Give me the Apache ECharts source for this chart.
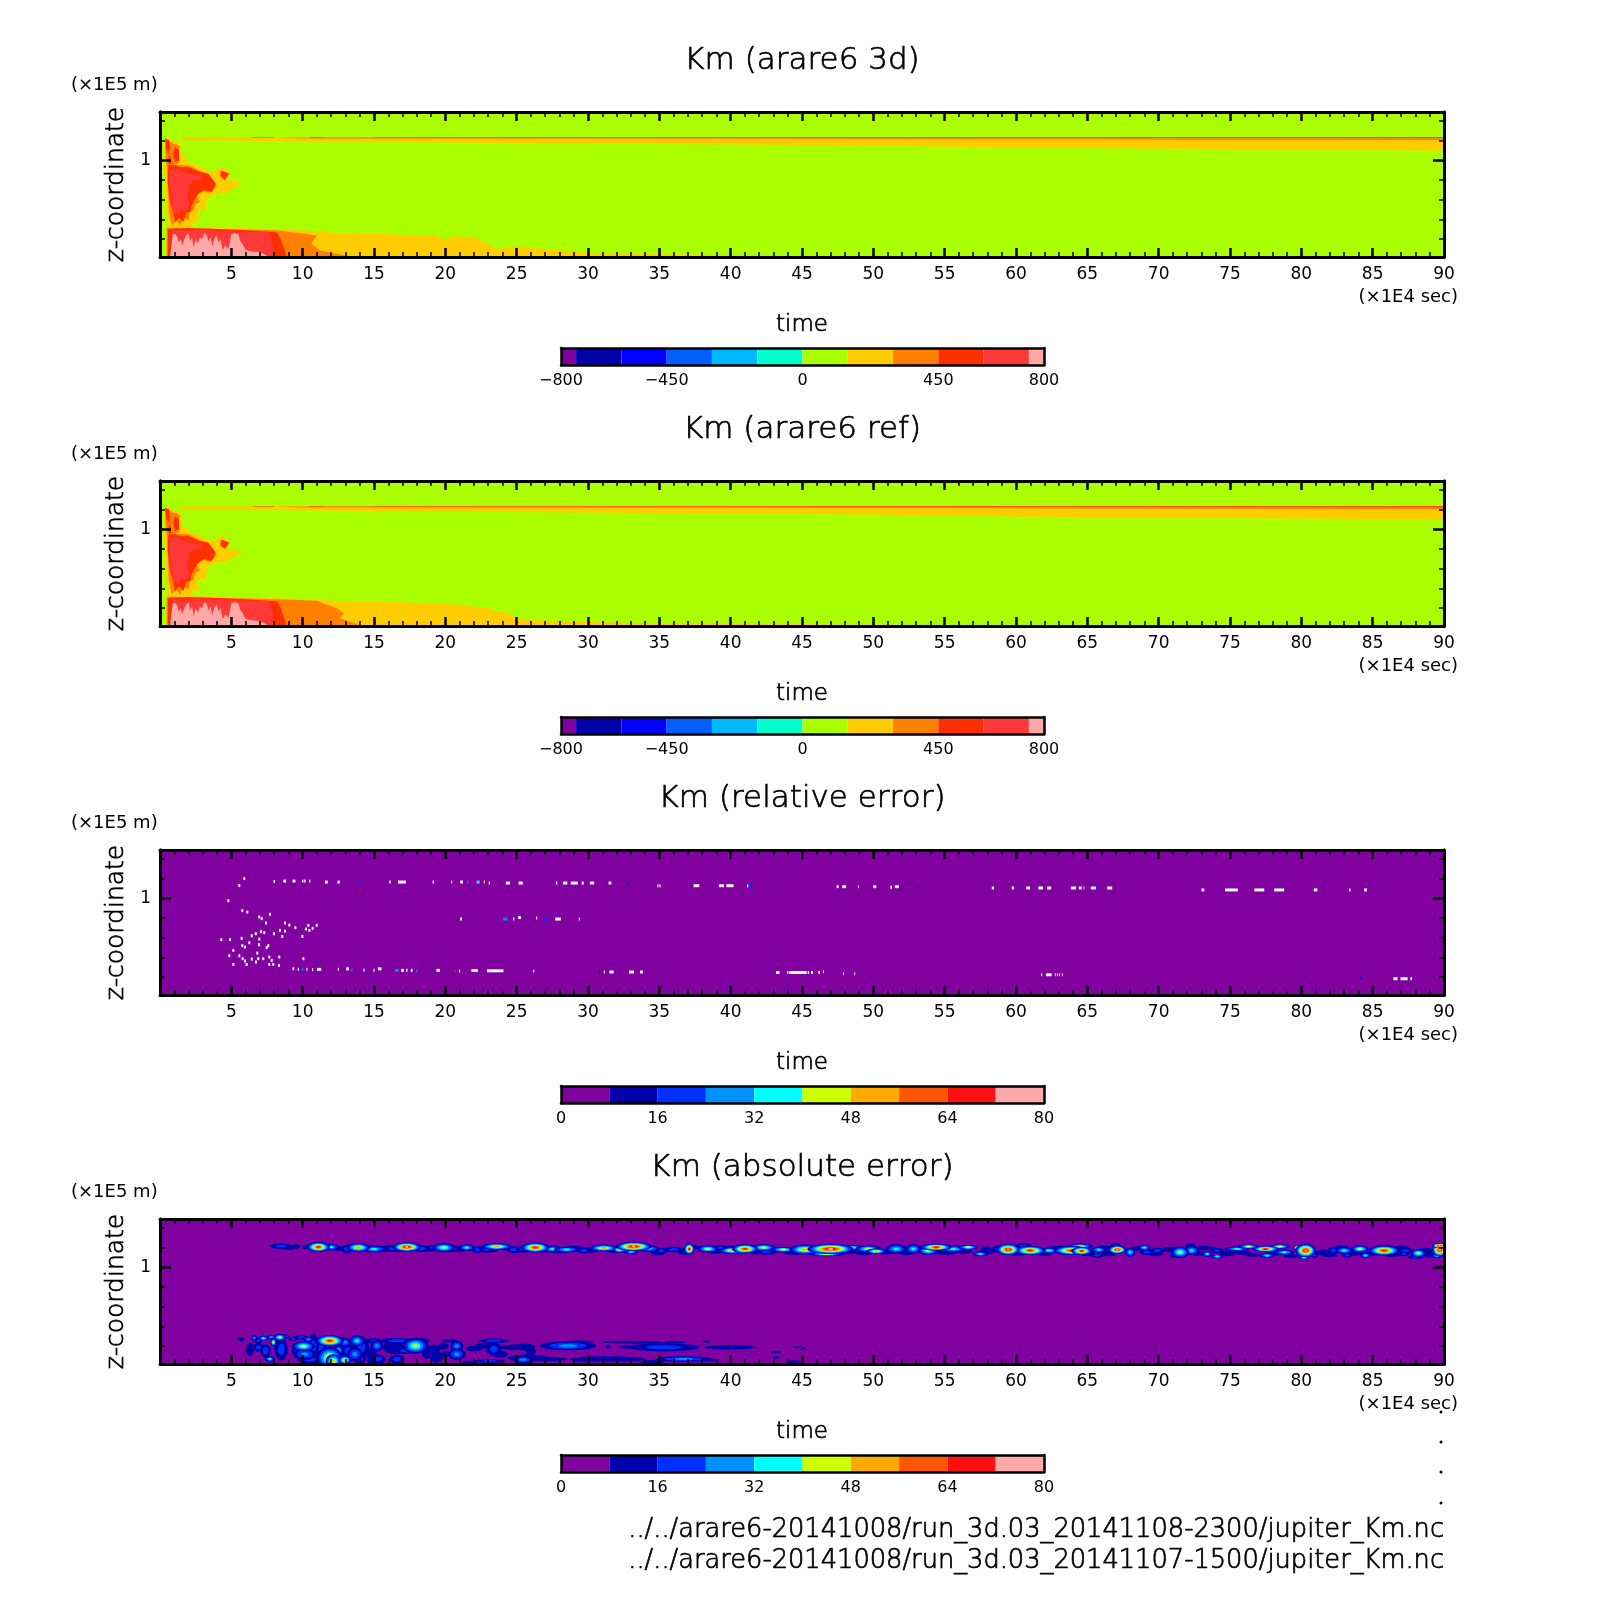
<!DOCTYPE html>
<html><head><meta charset="utf-8">
<style>html,body{margin:0;padding:0;background:#fff}#c{width:1604px;height:1604px}</style>
<script src="https://cdn.jsdelivr.net/npm/echarts@6/dist/echarts.min.js"></script>
</head><body><div id="c"></div>
<script>
/* ---------- text ---------- */
const panelTitles = ['Km (arare6 3d)', 'Km (arare6 ref)', 'Km (relative error)', 'Km (absolute error)'];
const fileLines = ['../../arare6-20141008/run_3d.03_20141108-2300/jupiter_Km.nc',
                   '../../arare6-20141008/run_3d.03_20141107-1500/jupiter_Km.nc'];
const timeTicks = [5,10,15,20,25,30,35,40,45,50,55,60,65,70,75,80,85,90];

/* ---------- colour levels ---------- */
const kmBounds = [-800,-750,-600,-450,-300,-150,0,150,300,450,600,750,800];
const kmColors = ['#8000A0','#0000AA','#0000FF','#0060FF','#00B8FF','#00FFCC','#AAFF00','#FFCC00','#FF8000','#FF3000','#FF3838','#FFA8A8'];
const kmLabels = [-800,-450,0,450,800];
const errBounds = [0,8,16,24,32,40,48,56,64,72,80];
const errColors = ['#8000A0','#0000AA','#0030FF','#0090FF','#00FFFF','#CCFF00','#FFAA00','#FF5500','#FF1010','#FFAAAA'];
const errLabels = [0,16,32,48,64,80];

/* ---------- Km fields: contour regions as [time, z] ---------- */
const fieldAll = [[0,0.02],[90,0.02],[90,1.49],[0,1.49]];
const plumeYellow = [[.35,1.237],[.7,1.22],[.85,1.2],[1.05,1.186],[1.2,1.19],[1.35,1.16],[1.52,1.152],[1.45,1.1],[1.64,1.05],[1.5,1.02],[1.99,1.017],[1.95,.98],[2.1,.966],[2.57,.949],[3.39,.898],[3.7,.88],[4.09,.915],[4.44,.932],[4.91,.864],[4.67,.797],[5.26,.797],[5.77,.763],[5.26,.729],[4.67,.671],[3.97,.671],[3.5,.627],[3.15,.577],[3.3,.53],[3.15,.492],[2.75,.5],[2.57,.441],[2.75,.41],[2.69,.374],[2.4,.39],[2.22,.323],[.58,.313],[.47,.407],[.4,.61],[.3,.881],[.3,1.118]];
const plumeOrange = [[.4,1.22],[.58,1.203],[.93,1.169],[1.2,1.16],[1.4,1.135],[1.25,1.08],[1.4,.983],[1.05,.956],[1.99,.949],[2.3,.93],[2.69,.898],[3.39,.864],[3.74,.797],[3.97,.729],[3.5,.671],[3.05,.69],[2.57,.644],[2.8,.577],[2.5,.56],[2.34,.492],[2.1,.47],[1.99,.39],[1.7,.42],[1.4,.34],[1.15,.39],[.82,.34],[.63,.475],[.54,.712],[.47,.949],[.35,1.118]];
const plumeOrangeTip = [[4.2,.898],[4.91,.864],[4.56,.797],[4.2,.83]];
const plumeRed = [[.58,.949],[1.05,.949],[1.4,.93],[1.99,.932],[2.8,.881],[3.39,.864],[3.9,.763],[3.62,.678],[3.1,.7],[2.69,.661],[2.45,.61],[2.22,.543],[2.1,.475],[1.85,.47],[1.64,.374],[1.35,.42],[1.05,.374],[.93,.475],[.7,.577],[.54,.78]];
const plumeRedStreakA = [[.35,1.22],[.63,1.203],[.7,1.118],[.58,1.067],[.44,1.118]];
const plumeRedStreakB = [[1.05,1.135],[1.33,1.101],[1.33,1],[1.05,.983],[.93,1.067]];
const plumeRedStreakC = [[.6,1.05],[.75,1.03],[.8,.96],[.6,.96]];
const plumeRedTip = [[4.32,.898],[4.84,.864],[4.51,.807],[4.28,.841]];
const plumeLight = [[.7,.915],[1.29,.915],[1.64,.881],[2.3,.86],[2.92,.847],[2.8,.797],[2.4,.8],[1.99,.746],[2.1,.7],[1.87,.661],[1.95,.6],[2.1,.543],[1.75,.475],[1.5,.5],[1.29,.441],[.93,.475],[.77,.61],[.68,.78]];

const lowYellow3d = [[.47,.02],[.47,.327],[4,.322],[9.35,.297],[11.7,.275],[12.6,.256],[13.8,.26],[16.2,.25],[18.7,.235],[19.4,.24],[19.9,.19],[20.6,.23],[22,.22],[23,.155],[23.6,.1],[25,.13],[27.8,.09],[30.2,.06],[33.6,.05],[40,.04],[50,.035],[62,.028],[62,.02]];
const lowYellowRef = [[.47,.02],[.47,.327],[4,.322],[9.35,.297],[11.7,.278],[14,.265],[17,.26],[20,.245],[21.5,.23],[22.3,.2],[23,.21],[23.6,.165],[24.3,.16],[25,.1],[26,.08],[30.2,.06],[33.6,.05],[40,.04],[50,.035],[62,.028],[62,.02]];
const lowOrange3d = [[.47,.02],[.47,.316],[8.2,.29],[11,.24],[10.6,.154],[11.2,.087],[12.4,.053],[13.6,.02]];
const lowOrangeRef = [[.47,.02],[.47,.316],[8.2,.29],[11,.275],[11.6,.24],[12.4,.2],[12.9,.15],[12.6,.1],[13.6,.05],[14.2,.02]];
const lowRed = [[.55,.02],[.55,.305],[2,.315],[4,.305],[6,.29],[8.2,.27],[8.5,.19],[8.9,.02]];
const lowLight = [[.7,.02],[.9,.3],[2,.285],[2.6,.3],[4.3,.28],[6,.275],[7.6,.27],[7.9,.154],[7.9,.02]];
const lowPink = [[.89,.25],[1.05,.25],[1.2,.23],[1.3,.17],[1.45,.2],[1.55,.14],[1.7,.2],[1.85,.24],[2,.26],[2.1,.18],[2.25,.22],[2.35,.12],[2.5,.2],[2.65,.16],[2.8,.22],[2.95,.2],[3.1,.26],[3.25,.25],[3.4,.18],[3.55,.22],[3.65,.13],[3.8,.2],[3.95,.24],[4.1,.17],[4.25,.2],[4.4,.09],[4.6,.14],[4.8,.1],[5,.25],[5.2,.26],[5.5,.25],[5.6,.19],[5.8,.15],[6,.09],[6.3,.08],[6.9,.07],[7.3,.05],[7.6,.02],[.7,.02]];

const stripeYellow = [[1.5,1.232],[90,1.232],[90,1.10],[85,1.105],[80,1.11],[75,1.115],[70,1.12],[65,1.125],[60,1.13],[55,1.14],[50,1.15],[45,1.155],[40,1.16],[35,1.165],[30,1.17],[25,1.175],[20,1.18],[15,1.185],[10,1.19],[8,1.195],[1.5,1.205]];
const stripeOrange = [[8,1.232],[90,1.235],[90,1.205],[60,1.214],[40,1.218],[10,1.222]];
const stripeRed = [[6.5,1.232],[8,1.232],[8,1.226],[10.5,1.226],[10.5,1.232],[11.5,1.232],[11.5,1.228],[15,1.228],[15,1.232],[90,1.235],[90,1.226],[40,1.227],[6.5,1.227]];

const regions3d = [[6,fieldAll],[7,stripeYellow],[8,stripeOrange],[9,stripeRed],[7,plumeYellow],[8,plumeOrange],[8,plumeOrangeTip],[9,plumeRed],[9,plumeRedStreakA],[9,plumeRedStreakB],[9,plumeRedStreakC],[9,plumeRedTip],[10,plumeLight],[7,lowYellow3d],[8,lowOrange3d],[9,lowRed],[10,lowLight],[11,lowPink]];
const regionsRef = [[6,fieldAll],[7,stripeYellow],[8,stripeOrange],[9,stripeRed],[7,plumeYellow],[8,plumeOrange],[8,plumeOrangeTip],[9,plumeRed],[9,plumeRedStreakA],[9,plumeRedStreakB],[9,plumeRedStreakC],[9,plumeRedTip],[10,plumeLight],[7,lowYellowRef],[8,lowOrangeRef],[9,lowRed],[10,lowLight],[11,lowPink]];

/* ---------- relative error: isolated cells [time, z, timeWidth, level] ---------- */
const relTopRow = [[8.01,1.17,.1,10],[8.74,1.175,.2,10],[9.39,1.175,.2,10],[10,1.175,.1,10],[10.15,1.175,.1,10],[10.5,1.175,.08,10],[11.66,1.165,.2,10],[12.52,1.165,.16,10],[13.9,1.165,.08,2],[16.12,1.165,.1,10],[16.96,1.165,.55,10],[19.16,1.165,.1,10],[20.44,1.165,.1,6],[21.14,1.165,.2,10],[21.57,1.165,.08,3],[22.3,1.165,.2,4],[22.73,1.165,.08,5],[23.08,1.155,.08,10],[24.39,1.155,.3,10],[25.28,1.155,.3,10],[27.8,1.155,.1,10],[28.4,1.155,.3,10],[29.04,1.155,.5,10],[29.63,1.155,.15,10],[30.28,1.155,.3,10],[31.54,1.155,.2,10],[32.78,1.15,.12,1],
 [34.9,1.128,.08,10],[35.05,1.128,.08,10],[37.6,1.128,.4,10],[39.35,1.128,.35,10],[39.95,1.128,.5,10],[41.2,1.128,.08,10],[41.4,1.13,.25,2],[47.5,1.118,.14,10],[47.95,1.118,.28,10],[48.95,1.118,.06,10],[50.1,1.118,.22,10],[51.25,1.112,.12,10],[51.65,1.118,.28,10],[53.15,1.118,.06,1],
 [58.38,1.105,.16,10],[59.78,1.105,.16,10],[60.85,1.105,.28,10],[61.73,1.105,.33,10],[62.33,1.105,.28,10],[64.02,1.105,.35,10],[64.5,1.105,.2,10],[64.76,1.105,.06,10],[65.42,1.105,.35,10],[65.68,1.105,.14,2],[66.57,1.105,.35,10],
 [73.1,1.085,.2,10],[75.1,1.085,.9,10],[77.05,1.085,.7,10],[78.45,1.085,.7,10],[81,1.085,.25,10],[83.4,1.085,.1,10],[84.5,1.085,.2,10]];
const relPlume = [[5.91,1.2],[5.56,1.13],[4.79,.976],[5.77,.875],[6.12,.861],[7.71,.838],[6.96,.811],[7.13,.794],[7.43,.75],[8.76,.75],[9.07,.729],[9.49,.702],[10.4,.726],[10.23,.689],[10.47,.675],[10.7,.696],[10.98,.726],[7.08,.662],[6.71,.641],[7.31,.652],[7.99,.641],[8.41,.675],[8.76,.668],[8.57,.614],[9.98,.614],[6.96,.587],[5.72,.594],[4.91,.581],[4.3,.581],[6.43,.621],[6.26,.55],[6.94,.53],[7.48,.5],[7.59,.52],[5.77,.52],[5.96,.506],[5.14,.472],[6.82,.445],[4.86,.418],[5.56,.418],[7.66,.405],[8.36,.405],[6.89,.388],[7.24,.388],[7.83,.371],[6.43,.384],[5.96,.364],[5.79,.388],[5.14,.33],[6.07,.33],[6.73,.354],[7.66,.33],[7.94,.33],[8.34,.32],[10.05,.388]];
const relMidRow = [[21.1,.79,.14,10],[24.2,.79,.3,3],[24.8,.79,.08,10],[25.2,.805,.2,10],[26.4,.8,.08,10],[27.05,.78,.25,2],[27.9,.79,.4,10],[29.4,.79,.08,10]];
const relLowRow = [[9.35,.286,.12,10],[9.7,.28,.08,10],[10,.28,.08,3],[10.3,.28,.08,10],[10.7,.275,.08,10],[11.15,.28,.3,10],[12.5,.28,.08,10],[13.15,.285,.2,10],[13.45,.27,.08,3],[14.3,.27,.08,10],[15,.27,.08,10],[15.4,.285,.25,10],[16.6,.27,.25,3],[17,.27,.2,10],[17.3,.27,.1,10],[17.64,.27,.12,10],[18,.262,.08,3],[19.5,.27,.25,10],[20.7,.262,.1,8],[21,.262,.08,10],[22.05,.268,.45,10],[23.5,.265,1.15,10],[26.2,.262,.08,10],
 [30.8,.253,.06,1],[31.15,.253,.08,10],[31.65,.253,.3,10],[33.05,.253,.35,10],[33.75,.253,.2,10],
 [43.3,.248,.25,10],[44,.248,.08,10],[44.15,.248,.1,10],[44.75,.248,1.15,10],[45.45,.248,.1,10],[45.7,.248,.14,10],[46.2,.248,.1,10],[46.5,.255,.06,10],[47.9,.235,.06,10],[48.7,.235,.06,10],
 [61.8,.225,.08,10],[62.3,.225,.4,10],[62.75,.225,.06,10],[62.9,.225,.06,10],[63.05,.225,.06,10],[63.25,.225,.06,10],[84.2,.19,.12,1],[86.6,.185,.3,10],[87.2,.185,.5,10],[87.7,.185,.12,10]];

/* ---------- absolute error: blobs [time, z, halfTime, halfZ, peak level] ---------- */
const absUpperA = [[8.5,1.215,.45,.012,2],[9.5,1.21,.2,.01,1],[10.2,1.205,.12,.01,1],[11.1,1.205,.45,.022,8],[12,1.205,.3,.015,4],[13.1,1.185,.2,.02,2],[13.9,1.2,.45,.02,6],[15,1.185,.5,.015,4],[16,1.19,.4,.015,2],[16.3,1.19,.3,.015,2],[17.3,1.205,.55,.02,9],[18.3,1.19,.35,.015,2],[19.2,1.2,.3,.012,2],[19.9,1.2,.45,.02,5],[20.6,1.19,.25,.015,2],[21.5,1.2,.3,.015,4],[22.3,1.18,.3,.015,2],[22.9,1.185,.3,.015,2],[23.6,1.21,.6,.015,6],[24.8,1.18,.3,.015,2],[25.5,1.185,.3,.015,2],[26.3,1.2,.55,.022,8],[27.5,1.185,.4,.015,4],[28.5,1.18,.5,.012,4],[29.7,1.17,.3,.012,2],[31.1,1.195,.55,.015,6],[32.2,1.18,.25,.015,6],[33.2,1.21,.7,.02,9],[33,1.16,.3,.012,4]];
const absUpperB = [[32.6,1.19,.3,.015,5],[34.2,1.19,.45,.015,4],[35.2,1.17,.3,.012,2],[36,1.18,.4,.012,2],[37.1,1.187,.2,.025,8],[38.4,1.187,.4,.015,5],[39.25,1.2,.25,.012,2],[40.1,1.17,.5,.015,6],[41,1.187,.5,.02,8],[42.3,1.2,.5,.015,5],[42.5,1.153,.4,.01,2],[43.7,1.18,.5,.012,5],[45.2,1.18,.6,.022,6],[47,1.187,.9,.022,9],[46.7,1.136,.7,.01,5],[48.6,1.2,.4,.012,4],[49.65,1.187,.5,.015,5],[50.2,1.163,.4,.012,6],[51.6,1.187,.4,.02,4],[52.8,1.187,.3,.02,4],[53.85,1.17,.4,.02,5],[54.4,1.204,.6,.015,8],[55.6,1.187,.5,.015,4],[56.65,1.204,.4,.01,5],[57.5,1.136,.3,.01,4],[57.9,1.187,.2,.012,1],[58.75,1.187,.25,.015,2],[59.45,1.18,.45,.025,9]];
const absUpperC = [[61,1.17,.6,.02,8],[60.5,1.22,.3,.01,2],[62.3,1.17,.5,.012,4],[63.9,1.17,.7,.02,8],[64.6,1.165,.4,.018,8],[64.5,1.215,.5,.01,5],[65.8,1.178,.3,.012,4],[65.7,1.12,.25,.01,2],[67.1,1.178,.35,.018,9],[67,1.22,.2,.01,2],[68,1.153,.2,.02,4],[69,1.2,.25,.012,4],[69.2,1.153,.3,.012,2],[69.9,1.17,.3,.012,2],[71.5,1.153,.35,.025,5],[72.3,1.17,.3,.02,4],[72.2,1.22,.2,.01,1],[73.4,1.136,.2,.012,4],[74.1,1.17,.25,.012,2],[74.1,1.11,.25,.008,4],[75.5,1.187,.5,.01,4],[76.3,1.21,.4,.01,5],[77.5,1.187,.5,.012,8],[77.6,1.12,.3,.01,4],[78.5,1.21,.4,.01,5],[78.8,1.153,.4,.012,4],[80.3,1.17,.4,.03,9],[80.2,1.103,.2,.01,5],[79.7,1.2,.15,.012,6],[80.9,1.12,.15,.01,2],[82.3,1.17,.3,.015,2],[83,1.17,.35,.015,4],[83.2,1.12,.2,.01,2],[84.1,1.187,.35,.015,5],[84.5,1.12,.2,.01,4],[85.8,1.17,.6,.022,8],[85.8,1.21,.3,.008,2],[87.3,1.17,.3,.012,2],[87.2,1.136,.2,.01,2],[88.2,1.143,.3,.018,5],[88,1.103,.3,.008,2],[89.7,1.178,.3,.03,9],[89.7,1.22,.3,.01,9],[89.5,1.12,.2,.012,4]];
const absBandMesh = [[9,1.195,.3,.008,1],[12.6,1.19,.3,.01,1],[14.7,1.2,.3,.01,1],[16.8,1.18,.3,.01,1],[18.9,1.18,.3,.01,1],[20.2,1.175,.3,.008,1],[21,1.18,.3,.01,1],[23,1.17,.4,.008,1],[24.2,1.195,.3,.01,1],[25,1.165,.3,.008,1],[26.9,1.17,.3,.008,1],[28,1.165,.4,.01,1],[29,1.195,.4,.01,1],[30,1.165,.4,.008,1],[30.5,1.185,.4,.01,1],[31.9,1.165,.3,.008,1],[34.9,1.155,.3,.015,1],[36.8,1.16,.3,.015,1],[37.6,1.205,.3,.008,1],[38.9,1.165,.35,.012,1],[40,1.2,.3,.008,1],[41.8,1.16,.3,.012,1],[43,1.175,.4,.012,1],[44.4,1.15,.4,.01,1],[46,1.205,.4,.008,1],[48.2,1.16,.4,.012,1],[49.3,1.145,.3,.01,1],[51,1.16,.4,.012,1],[52.3,1.15,.3,.012,1],[53,1.205,.3,.008,1],[55,1.155,.5,.012,1],[56.4,1.165,.3,.012,1],[58,1.16,.3,.012,1],[60.1,1.14,.3,.01,1],[62,1.14,.3,.01,1],[63,1.2,.4,.008,1],[65,1.14,.3,.012,1],[66.5,1.14,.3,.012,1],[66.2,1.2,.3,.01,1],[68.5,1.19,.3,.01,1],[69.8,1.135,.3,.01,1],[70.8,1.18,.3,.012,1],[71.2,1.12,.25,.01,1],[72.8,1.14,.3,.01,1],[73.2,1.195,.4,.01,1],[74.8,1.14,.3,.012,1],[75.8,1.15,.35,.01,1],[76.6,1.125,.3,.008,1],[78,1.14,.3,.01,1],[79.3,1.115,.3,.008,1],[81.5,1.15,.3,.012,1],[82,1.12,.3,.008,1],[82.8,1.2,.3,.01,1],[83.8,1.145,.3,.012,1],[85,1.14,.3,.01,1],[86.4,1.13,.4,.01,1],[87,1.2,.3,.008,1],[88.7,1.17,.3,.012,1],[89,1.125,.25,.012,1]];
const absLower = [[5.7,.27,.15,.008,1],[6.6,.283,.12,.012,3],[6.9,.256,.15,.012,2],[7.25,.28,.2,.012,4],[7.95,.24,.12,.02,5],[7.8,.29,.25,.008,3],[6.3,.17,.15,.03,1],[6.9,.19,.2,.02,2],[7.4,.155,.2,.03,2],[7.7,.07,.2,.012,4],[8.4,.29,.25,.015,5],[8.75,.3,.2,.008,3],[8.5,.17,.25,.05,2],[8.2,.19,.1,.04,1],[9.35,.273,.2,.008,2],[9.9,.29,.3,.008,2],[10.05,.2,.45,.022,5],[10.4,.27,.2,.01,3],[9.6,.15,.2,.03,2],[10.15,.12,.45,.025,3],[10.75,.19,.2,.06,2],[10.5,.07,.5,.02,2],[11.9,.255,.55,.025,8],[11.3,.17,.2,.05,2],[11.9,.08,.5,.05,6],[12.15,.05,.3,.03,6],[12.5,.155,.2,.025,4],[12.95,.24,.25,.02,3],[12.95,.06,.25,.02,6],[13.8,.255,.3,.025,4],[13.2,.155,.3,.03,2],[13.65,.12,.3,.03,3],[14.1,.19,.3,.05,2],[14,.07,.25,.02,2],[15.2,.205,.25,.025,3],[15,.255,.3,.012,2],[14.85,.1,.2,.04,1],[15.3,.07,.3,.02,2],[16.6,.256,.7,.012,2],[16.35,.19,.4,.03,1],[17.9,.205,.5,.035,5],[18.2,.256,.4,.012,1],[17.3,.155,.5,.015,2],[18.7,.14,.2,.03,1],[19.2,.17,.25,.02,1],[16.6,.07,.3,.02,2],[19.4,.09,.25,.025,1],[19.85,.2,.2,.015,1],[20.8,.2,.25,.025,3],[20.8,.12,.35,.025,3],[20,.12,.2,.012,1],[20.3,.256,.3,.008,1],[22,.178,.35,.012,1],[23.4,.256,.6,.01,2],[22.9,.205,.5,.012,1],[23.4,.17,.3,.03,2],[23.85,.12,.3,.015,1],[25,.19,.7,.012,1],[25.6,.07,.4,.02,2],[23.1,.05,.6,.008,2],[21.7,.04,.3,.006,1],[25.8,.08,.8,.015,1],[28.6,.205,1.1,.02,3],[29.3,.245,.6,.006,1],[25.6,.19,.4,.015,1],[26,.145,.2,.015,1],[25.45,.064,.4,.015,3],[27.1,.07,.8,.01,1],[29.55,.06,.4,.008,1],[31.4,.07,1.5,.012,1],[31.4,.195,.1,.008,1],[33.2,.24,1.2,.006,1],[32.7,.195,.3,.008,1],[35.3,.19,1.4,.018,2],[36.1,.24,.4,.006,1],[39.95,.19,1,.01,1],[38.3,.245,.15,.004,1],[36.7,.07,1.1,.012,3],[38.3,.06,.5,.006,1],[34.5,.043,.5,.006,1],[43.2,.138,.2,.005,1],[43.2,.087,.15,.005,1],[44.6,.19,.1,.005,1],[45.1,.18,.1,.004,1],[44.4,.043,.3,.005,1]];

/* ---------- layout ---------- */
const FONT = '"DejaVu Sans"';
const THIN = '"DejaVu Sans Light","DejaVu Sans ExtraLight","DejaVu Sans"';
const thinInk = {textBorderColor:'#000', textBorderWidth:0.7};
const G = {left:160, width:1284, height:145, step:369, top:112, barLeft:561, barWidth:483, barTop:348, barHeight:17};
const INK = '#000';
const BLOB_SPREAD_T = 1.8, BLOB_SPREAD_Z = 2.3;

function regionRender(regions, colors){
  return (p, api) => ({type:'polygon', shape:{points:regions[p.dataIndex][1].map(q=>api.coord(q))}, style:{fill:colors[regions[p.dataIndex][0]]}});
}
const CELL_COLORS = errColors.concat(['#FFFFFF']);
function cellRender(cells){
  return (p, api) => {
    const c = cells[p.dataIndex];
    const w = c.length>2 ? c[2] : .14;
    const lv = c.length>3 ? c[3] : 10;
    const a = api.coord([c[0]-w/2, c[1]+.015]), b = api.coord([c[0]+w/2, c[1]-.015]);
    return {type:'rect', shape:{x:a[0], y:a[1], width:b[0]-a[0], height:b[1]-a[1]}, style:{fill:CELL_COLORS[lv]}};
  };
}
function blobRender(blobs){
  return (p, api) => {
    const b = blobs[p.dataIndex], kids = [];
    for (let lv=1; lv<=b[4]; lv++){
      const s = 1-(lv-1)/b[4];
      const c = api.coord([b[0],b[1]]), e = api.coord([b[0]+b[2]*s*BLOB_SPREAD_T, b[1]-b[3]*s*BLOB_SPREAD_Z]);
      kids.push({type:'ellipse', shape:{cx:c[0], cy:c[1], rx:Math.max(e[0]-c[0],1.2), ry:Math.max(e[1]-c[1],1)}, style:{fill:errColors[lv]}});
    }
    return {type:'group', children:kids};
  };
}
function bandRender(bounds, colors){
  return (p, api) => {
    const i = p.dataIndex;
    const a = api.coord([bounds[i],1]), b = api.coord([bounds[i+1],0]);
    return {type:'rect', shape:{x:a[0], y:a[1], width:b[0]-a[0], height:b[1]-a[1]}, style:{fill:colors[i]}};
  };
}

const grid=[], xAxis=[], yAxis=[], series=[], title=[];
const lbl = {color:INK, fontFamily:FONT, fontSize:17};
const line = w => ({show:true, onZero:false, lineStyle:{color:INK, width:w}});

function addPanel(i, seriesList){
  const gi = grid.length, top = G.top + i*G.step;
  grid.push({left:G.left, top:top, width:G.width, height:G.height});
  const xBase = {gridIndex:gi, type:'value', min:0, max:90, interval:5, z:10, splitLine:{show:false},
    axisLine:line(3), axisTick:{inside:true, length:9, lineStyle:{color:INK, width:2.5}},
    minorTick:{show:true, splitNumber:5, length:5, lineStyle:{color:INK, width:1.5}}};
  const xi = xAxis.length;
  xAxis.push(Object.assign({}, xBase, {position:'bottom', name:'time', nameLocation:'middle', nameGap:57,
    nameTextStyle:Object.assign({color:INK, fontFamily:THIN, fontSize:23}, thinInk),
    axisLabel:Object.assign({}, lbl, {margin:9, customValues:timeTicks})}));
  xAxis.push(Object.assign({}, xBase, {position:'top', axisLabel:{show:false}}));
  const yBase = {gridIndex:gi, type:'value', min:.02, max:1.49, z:10, splitLine:{show:false}, axisLine:line(3)};
  const major = {inside:true, length:11, customValues:[1], lineStyle:{color:INK, width:2.5}};
  const minor = {inside:true, length:5, customValues:[.2,.4,.6,.8,1.2,1.4], lineStyle:{color:INK, width:1.5}};
  const yi = yAxis.length;
  yAxis.push(Object.assign({}, yBase, {position:'left', name:'z-coordinate', nameLocation:'middle', nameRotate:90, nameGap:30,
    nameTextStyle:Object.assign({color:INK, fontFamily:THIN, fontSize:25}, thinInk),
    axisTick:major, axisLabel:Object.assign({}, lbl, {margin:9, customValues:[1]})}));
  yAxis.push(Object.assign({}, yBase, {position:'left', axisTick:minor, axisLabel:{show:false}}));
  yAxis.push(Object.assign({}, yBase, {position:'right', axisTick:major, axisLabel:{show:false}}));
  yAxis.push(Object.assign({}, yBase, {position:'right', axisTick:minor, axisLabel:{show:false}}));
  seriesList.forEach(s => series.push(Object.assign({type:'custom', xAxisIndex:xi, yAxisIndex:yi, clip:true, silent:true, z:2, animation:false}, s)));
  title.push({text:panelTitles[i], left:802, top:45+i*G.step, textAlign:'center', padding:0,
    textStyle:Object.assign({color:INK, fontFamily:THIN, fontWeight:'normal', fontSize:31}, thinInk)});
  title.push({text:'(×1E5 m)', left:71, top:76+i*G.step, padding:0, textStyle:{color:INK, fontFamily:FONT, fontWeight:'normal', fontSize:18}});
  title.push({text:'(×1E4 sec)', left:1458, top:288+i*G.step, textAlign:'right', padding:0, textStyle:{color:INK, fontFamily:FONT, fontWeight:'normal', fontSize:18}});
}
function addBar(i, bounds, colors, labels){
  const gi = grid.length, top = G.barTop + i*G.step;
  grid.push({left:G.barLeft, top:top, width:G.barWidth, height:G.barHeight});
  const min = bounds[0], max = bounds[bounds.length-1];
  const xi = xAxis.length, yi = yAxis.length;
  const xb = {gridIndex:gi, type:'value', min:min, max:max, z:10, splitLine:{show:false}, axisTick:{show:false}, axisLine:line(2.5)};
  xAxis.push(Object.assign({}, xb, {position:'bottom', axisLabel:Object.assign({}, lbl, {fontSize:16, margin:8, customValues:labels,
    formatter:v => String(v).replace('-', '\u2212')})}));
  xAxis.push(Object.assign({}, xb, {position:'top', axisLabel:{show:false}}));
  const yb = {gridIndex:gi, type:'value', min:0, max:1, z:10, splitLine:{show:false}, axisTick:{show:false}, axisLabel:{show:false}, axisLine:line(2.5)};
  yAxis.push(Object.assign({}, yb, {position:'left'}));
  yAxis.push(Object.assign({}, yb, {position:'right'}));
  series.push({type:'custom', xAxisIndex:xi, yAxisIndex:yi, silent:true, z:2, animation:false,
    data:colors.map((c,k)=>[bounds[k],0]), renderItem:bandRender(bounds, colors)});
}
const idx = a => a.map((q,k)=>[k,0]);
function fieldSeries(regions){ return [{data:idx(regions), renderItem:regionRender(regions, kmColors)}]; }

addPanel(0, fieldSeries(regions3d));
addBar(0, kmBounds, kmColors, kmLabels);
addPanel(1, fieldSeries(regionsRef));
addBar(1, kmBounds, kmColors, kmLabels);

const errBase = [[0,fieldAll]];
const relCells = relTopRow.concat(relPlume, relMidRow, relLowRow);
addPanel(2, [{data:idx(errBase), renderItem:regionRender(errBase, errColors), z:1},
             {data:idx(relCells), renderItem:cellRender(relCells)}]);
addBar(2, errBounds, errColors, errLabels);

const absBlobs = absBandMesh.concat(absUpperA, absUpperB, absUpperC, absLower).sort((a,b)=>a[4]-b[4]);
addPanel(3, [{data:idx(errBase), renderItem:regionRender(errBase, errColors), z:1},
             {data:idx(absBlobs), renderItem:blobRender(absBlobs)}]);
addBar(3, errBounds, errColors, errLabels);

fileLines.forEach((t,k)=>title.push({text:t, left:1444, top:1517+k*31.5, textAlign:'right', padding:0,
  textStyle:Object.assign({color:INK, fontFamily:THIN, fontWeight:'normal', fontSize:25.7}, thinInk)}));

const chart = echarts.init(document.getElementById('c'), null, {renderer:'canvas', width:1604, height:1604});
chart.setOption({animation:false, backgroundColor:'#fff', title, grid, xAxis, yAxis, series,
  graphic:[1412,1442,1472,1503].map(y=>({type:'circle', shape:{cx:1441, cy:y, r:1.5}, style:{fill:INK}, silent:true}))});
</script></body></html>
